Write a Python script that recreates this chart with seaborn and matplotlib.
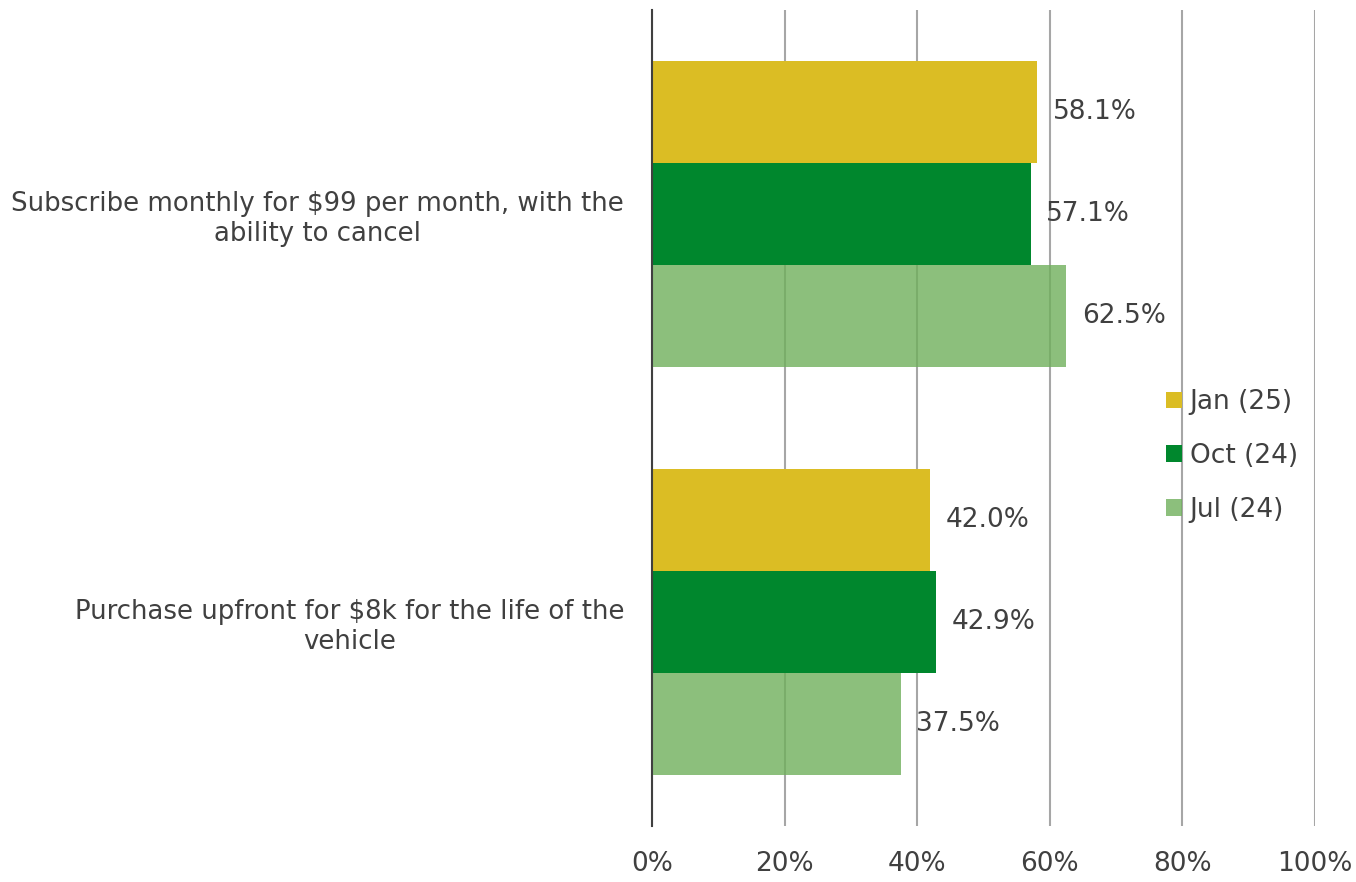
import pandas as pd
import seaborn as sns
import matplotlib.pyplot as plt
from matplotlib.patches import Patch

# --- data ---
options = [
    "Subscribe monthly for $99 per month, with the\nability to cancel",
    "Purchase upfront for $8k for the life of the\nvehicle",
]
periods = ["Jan (25)", "Oct (24)", "Jul (24)"]
jan_25 = [58.1, 42.0]
oct_24 = [57.1, 42.9]
jul_24 = [62.5, 37.5]
x_ticks = [0, 20, 40, 60, 80, 100]
x_tick_labels = ["0%", "20%", "40%", "60%", "80%", "100%"]

colors = ["#dbbd24", "#00872d", "#6fb05b"]
alphas = [1.0, 1.0, 0.8]
TEXT = "#404040"
GRID = "#a6a6a6"

df = pd.DataFrame({
    "option": options * 3,
    "period": [p for p in periods for _ in options],
    "value": jan_25 + oct_24 + jul_24,
})

sns.set_theme(style="white")
plt.rcParams["font.family"] = ["DejaVu Sans"]
plt.rcParams["text.color"] = TEXT

fig = plt.figure(figsize=(13.56, 8.82), dpi=100)
ax = fig.add_axes([0.4808, 0.0635, 0.4890, 0.9252])

sns.barplot(data=df, x="value", y="option", hue="period", hue_order=periods,
            palette=colors, width=0.75, saturation=1, orient="h",
            legend=False, ax=ax)

# value labels + transparency on the light green series
for cont, a in zip(ax.containers, alphas):
    for p in cont:
        p.set_alpha(a)
        p.set_linewidth(0)
    ax.bar_label(cont, labels=[f"{p.get_width():.1f}%" for p in cont],
                 padding=11, fontsize=19, color=TEXT)

ax.set_xlim(0, 100)
ax.set_ylim(1.5, -0.5)
ax.set_xticks(x_ticks)
ax.set_xticklabels(x_tick_labels, fontsize=19, color=TEXT)
ax.set_xlabel("")
ax.set_ylabel("")
ax.tick_params(axis="x", length=0, pad=18)
ax.tick_params(axis="y", length=0, pad=20, labelsize=18.7, labelcolor=TEXT)
for t in ax.get_yticklabels():
    t.set_multialignment("center")

ax.set_axisbelow(True)
ax.grid(axis="x", color=GRID, linewidth=1.5)
ax.grid(axis="y", visible=False)
for side in ["top", "right", "bottom"]:
    ax.spines[side].set_visible(False)
ax.spines["left"].set_color(TEXT)
ax.spines["left"].set_linewidth(1.5)
ax.spines["left"].set_zorder(5)

handles = [Patch(facecolor=c, alpha=a, linewidth=0) for c, a in zip(colors, alphas)]
fig.legend(handles, periods, loc="center left",
           bbox_to_anchor=(1142 / 1356, 1 - 456 / 882), frameon=False,
           fontsize=19, handlelength=0.6, handleheight=0.6,
           handletextpad=0.3, labelspacing=1.05, labelcolor=TEXT)

fig.savefig("out.png", dpi=100)
